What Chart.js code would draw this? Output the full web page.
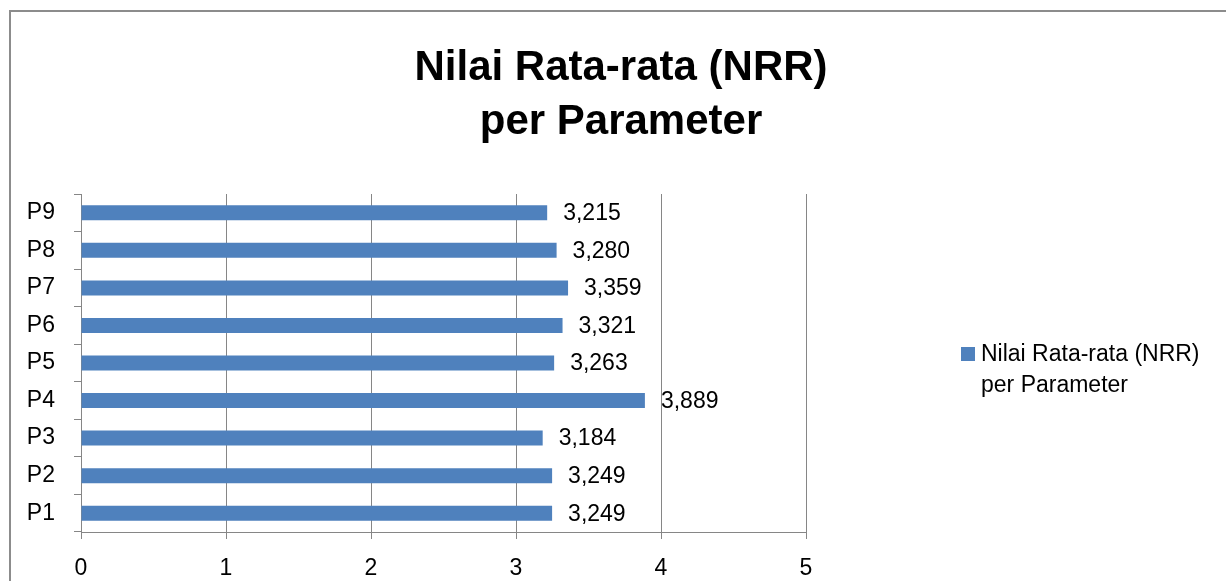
<!DOCTYPE html>
<html>
<head>
<meta charset="utf-8">
<script src="https://cdn.jsdelivr.net/npm/chart.js@4/dist/chart.umd.min.js"></script>
<style>
  html, body { margin: 0; padding: 0; background: #fff; }
  #wrap { width: 1226px; height: 581px; }
</style>
</head>
<body>
<div id="wrap"><canvas id="chart"></canvas></div>
<script>
// data
const categories = ['P1', 'P2', 'P3', 'P4', 'P5', 'P6', 'P7', 'P8', 'P9'];
const nrrValues = [3.249, 3.249, 3.184, 3.889, 3.263, 3.321, 3.359, 3.280, 3.215];
const xTicks = [0, 1, 2, 3, 4, 5];
const seriesName = 'Nilai Rata-rata (NRR) per Parameter';
const titleLines = ['Nilai Rata-rata (NRR)', 'per Parameter'];

const FONT = "'Liberation Sans', Arial, sans-serif";
const BAR = '#4F81BD';
const GRID = '#868686';

const fmt = v => v.toFixed(3).replace('.', ',');

// frame, title, legend and value labels (Excel look)
const decor = {
  id: 'decor',
  beforeDraw(chart) {
    const ctx = chart.ctx;
    ctx.save();
    ctx.fillStyle = '#fff';
    ctx.fillRect(0, 0, chart.width, chart.height);
    ctx.strokeStyle = '#8c8c8c';
    ctx.lineWidth = 2;
    ctx.strokeRect(10, 11, 1400, 800);
    ctx.restore();
  },
  afterDraw(chart) {
    const ctx = chart.ctx;
    ctx.save();
    // title
    ctx.fillStyle = '#000';
    ctx.font = 'bold 42px ' + FONT;
    ctx.textAlign = 'center';
    ctx.textBaseline = 'middle';
    ctx.fillText(titleLines[0], 621, 68);
    ctx.fillText(titleLines[1], 621, 122);

    // value labels
    const meta = chart.getDatasetMeta(0);
    ctx.font = '23px ' + FONT;
    ctx.textAlign = 'left';
    meta.data.forEach((bar, i) => {
      ctx.fillText(fmt(nrrValues[i]), bar.x + 16, bar.y + 1);
    });

    // legend
    ctx.fillStyle = BAR;
    ctx.fillRect(961, 347, 14, 14);
    ctx.fillStyle = '#000';
    ctx.font = '23px ' + FONT;
    ctx.fillText('Nilai Rata-rata (NRR)', 981, 355);
    ctx.fillText('per Parameter', 981, 386);
    ctx.restore();
  }
};

new Chart(document.getElementById('chart'), {
  type: 'bar',
  data: {
    labels: categories,
    datasets: [{
      label: seriesName,
      data: nrrValues,
      backgroundColor: BAR,
      borderWidth: 0,
      barPercentage: 0.4,
      categoryPercentage: 1.0
    }]
  },
  options: {
    indexAxis: 'y',
    responsive: true,
    maintainAspectRatio: false,
    animation: false,
    layout: { padding: { left: 0, right: 420, top: 194, bottom: 0 } },
    plugins: {
      legend: { display: false },
      title: { display: false },
      tooltip: { enabled: false }
    },
    scales: {
      x: {
        min: 0,
        max: 5,
        afterFit: s => { s.height = 49; },
        afterBuildTicks: s => { s.ticks = xTicks.map(v => ({ value: v })); },
        grid: { color: GRID, lineWidth: 1, tickLength: 7, drawTicks: true },
        border: { color: GRID, width: 1 },
        ticks: { color: '#000', font: { family: FONT, size: 23 }, padding: 16 }
      },
      y: {
        reverse: true,
        afterFit: s => { s.width = 81; },
        grid: { drawOnChartArea: false, color: GRID, tickLength: 7, offset: true },
        border: { color: GRID, width: 1 },
        ticks: { color: '#000', font: { family: FONT, size: 23 }, padding: 19 }
      }
    }
  },
  plugins: [decor]
});
</script>
</body>
</html>
